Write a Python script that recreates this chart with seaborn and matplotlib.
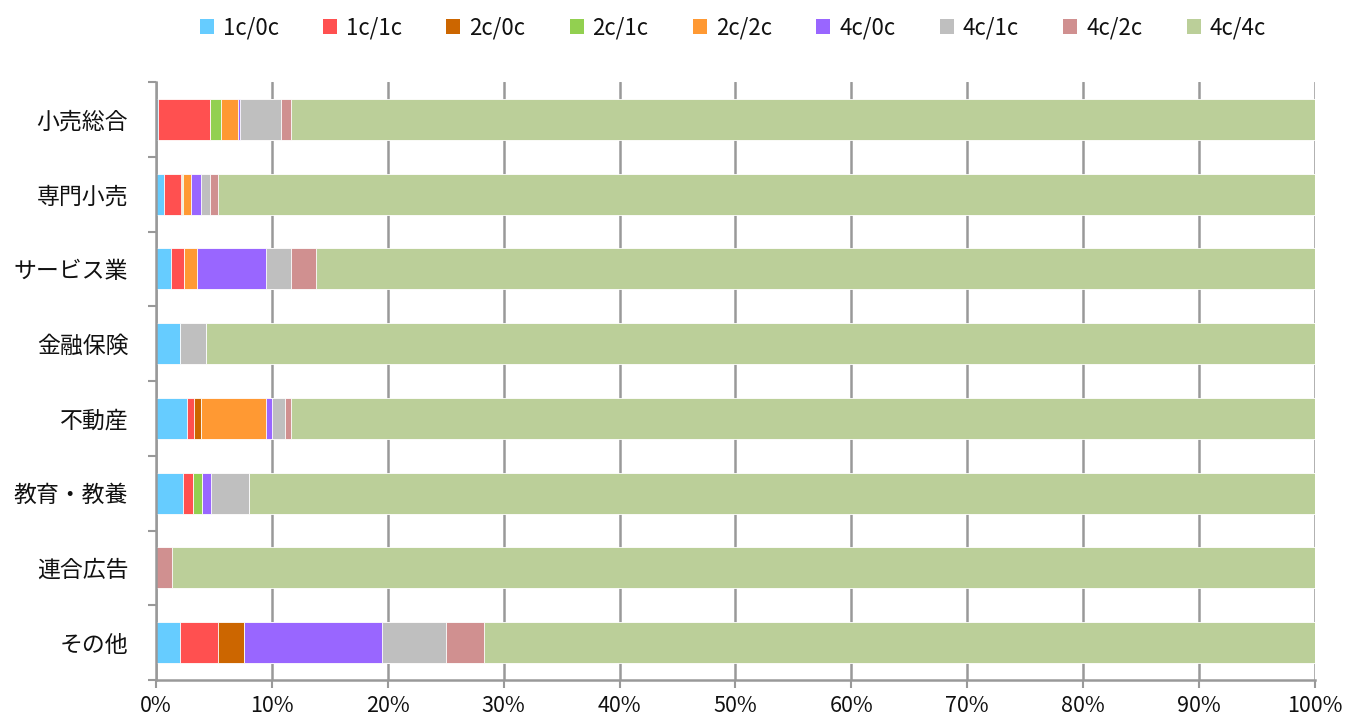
import numpy as np
import pandas as pd
import matplotlib
matplotlib.use("Agg")
import matplotlib.pyplot as plt
import seaborn as sns
from matplotlib.patches import Patch

categories = ["小売総合", "専門小売", "サービス業", "金融保険", "不動産", "教育・教養", "連合広告", "その他"]
series_names = ["1c/0c", "1c/1c", "2c/0c", "2c/1c", "2c/2c", "4c/0c", "4c/1c", "4c/2c", "4c/4c"]
colors = ["#66CCFF", "#FF5050", "#CC6600", "#92D050", "#FF9933", "#9966FF", "#BFBFBF", "#D09090", "#BBCF99"]

v_1c0c = [0.15, 0.66, 1.33, 2.10, 2.68, 2.37, 0.00, 2.10]
v_1c1c = [4.55, 1.47, 1.07, 0.00, 0.61, 0.81, 0.00, 3.26]
v_2c0c = [0.00, 0.10, 0.00, 0.00, 0.58, 0.00, 0.00, 2.19]
v_2c1c = [0.87, 0.10, 0.00, 0.00, 0.00, 0.81, 0.00, 0.00]
v_2c2c = [1.47, 0.66, 1.10, 0.00, 5.60, 0.00, 0.00, 0.00]
v_4c0c = [0.20, 0.92, 5.97, 0.00, 0.52, 0.78, 0.00, 11.98]
v_4c1c = [3.58, 0.75, 2.16, 2.19, 1.18, 3.26, 0.00, 5.48]
v_4c2c = [0.81, 0.72, 2.14, 0.00, 0.52, 0.00, 1.41, 3.26]
v_4c4c = [88.37, 94.62, 86.23, 95.71, 88.31, 91.97, 98.59, 71.73]

values = [v_1c0c, v_1c1c, v_2c0c, v_2c1c, v_2c2c, v_4c0c, v_4c1c, v_4c2c, v_4c4c]

sns.set_theme(style="white")
plt.rcParams['font.family'] = ['Noto Sans CJK JP', 'DejaVu Sans']
plt.rcParams['text.color'] = '#111111'
plt.rcParams['xtick.labelcolor'] = '#111111'
plt.rcParams['ytick.labelcolor'] = '#111111'

arr = np.array(values)
pct = arr / arr.sum(axis=0) * 100
cum = np.cumsum(pct, axis=0)

fig = plt.figure(figsize=(13.47, 7.22), dpi=100)
ax = fig.add_axes([156/1347, 1 - 680/722, (1315-156)/1347, (680-82)/722])

for i in range(len(series_names) - 1, -1, -1):
    df = pd.DataFrame({"cat": categories, "val": cum[i]})
    sns.barplot(data=df, x="val", y="cat", orient="h", color=colors[i],
                saturation=1, width=0.55, edgecolor="white", linewidth=0.6, ax=ax)

ax.set_xlim(0, 100)
ax.set_ylim(len(categories) - 0.5, -0.5)
ax.set_xticks(np.arange(0, 101, 10))
ax.set_xticklabels([f"{t}%" for t in range(0, 101, 10)], fontsize=15.5)
ax.set_xlabel("")
ax.set_ylabel("")
ax.tick_params(axis="y", labelsize=16.5, length=0, pad=20, labelcolor="#111111")
ax.set_yticks(np.arange(-0.5, len(categories), 1), minor=True)
ax.tick_params(axis="y", which="minor", length=6, width=1.5, color="#999999", left=True)
ax.tick_params(axis="x", which="major", length=6, width=1.5, color="#999999", bottom=True, pad=5,
               labelcolor="#111111")
ax.set_axisbelow(True)
ax.xaxis.grid(True, color="#999999", linewidth=1.8)
ax.yaxis.grid(False)
for s in ["top", "right"]:
    ax.spines[s].set_visible(False)
for s in ["left", "bottom"]:
    ax.spines[s].set_color("#999999")
    ax.spines[s].set_linewidth(1.8)

handles = [Patch(facecolor=c, edgecolor="none") for c in colors]
fig.legend(handles, series_names, loc="upper center", bbox_to_anchor=(0.544, 1.005),
           ncol=9, frameon=False, fontsize=16, handlelength=0.63, handleheight=0.63,
           handletextpad=0.4, columnspacing=2.0, labelcolor="#111111")

fig.savefig("out.png", dpi=100)
